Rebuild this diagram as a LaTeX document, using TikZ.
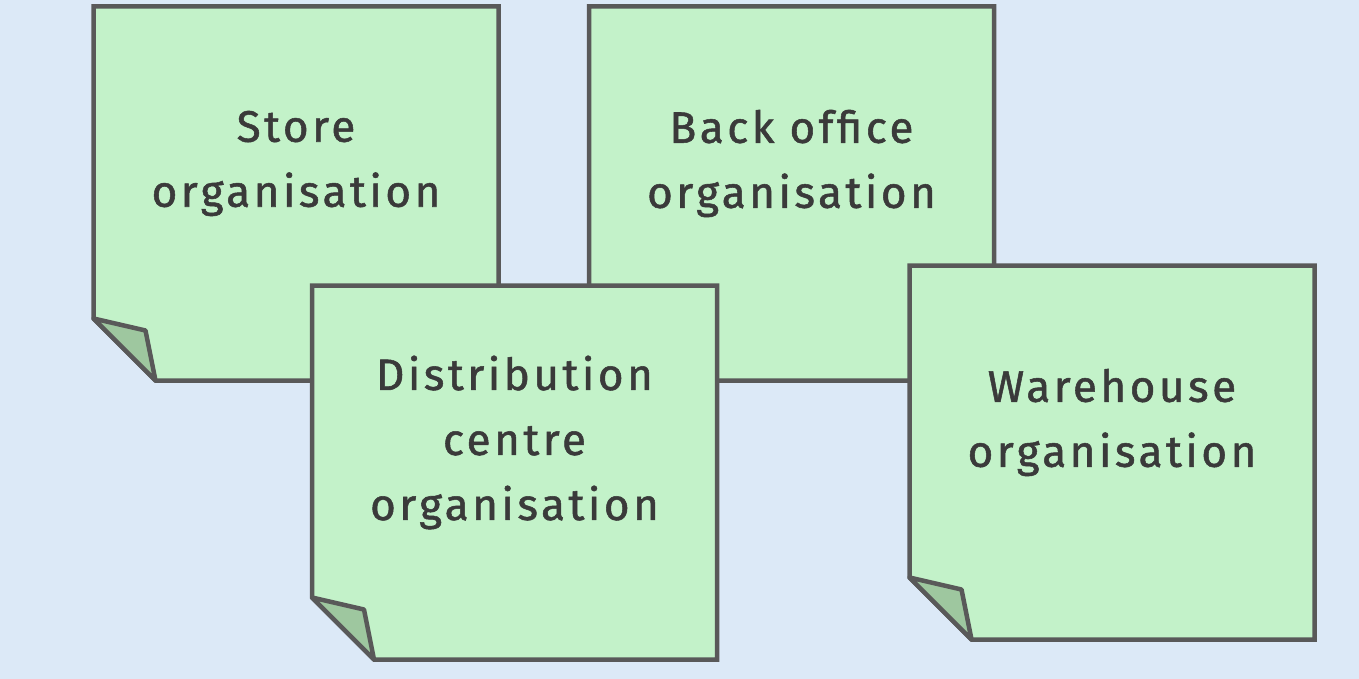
\documentclass[tikz,border=0pt]{standalone}
\usepackage{fontspec}
\setmainfont{Fira Sans}[LetterSpace=8,FakeBold=1.2]
\definecolor{bgblue}{HTML}{DCE9F7}
\definecolor{notefill}{HTML}{C3F2C9}
\definecolor{notefold}{HTML}{9EC79F}
\definecolor{noteline}{HTML}{595959}
\definecolor{notetext}{HTML}{3A3A3A}
\tikzset{
  notebody/.style={draw=noteline, fill=notefill, line width=4.5pt, line join=miter},
  notecurl/.style={draw=noteline, fill=notefold, line width=4.5pt, line join=round},
  notelabel/.style={text=notetext, align=center, inner sep=0pt,
    font=\fontsize{44}{65}\selectfont}
}
\newcommand{\stickynote}[4]{%
  \draw[notebody] (#2,#3) -- ++(405,0) -- ++(0,374) -- ++(-343,0) -- ++(-62,-62) -- cycle;
  \draw[notecurl] (#2,#3+312) -- ++(52,12) -- ++(10,50) -- cycle;
  \node[notelabel] (#1) at (#2+202.5,#3+157) {#4};
}
\begin{document}
\begin{tikzpicture}[x=1pt,y=-1pt]
  \fill[bgblue] (0,0) rectangle (1359,679);
  \useasboundingbox (0,0) rectangle (1359,679);
  \stickynote{store}{93.5}{6.5}{Store\\organisation}
  \stickynote{backoffice}{589}{6.5}{Back office\\organisation}
  \stickynote{distribution}{312}{285.5}{Distribution\\centre\\organisation}
  \stickynote{warehouse}{909.5}{265.5}{Warehouse\\organisation}
\end{tikzpicture}
\end{document}
